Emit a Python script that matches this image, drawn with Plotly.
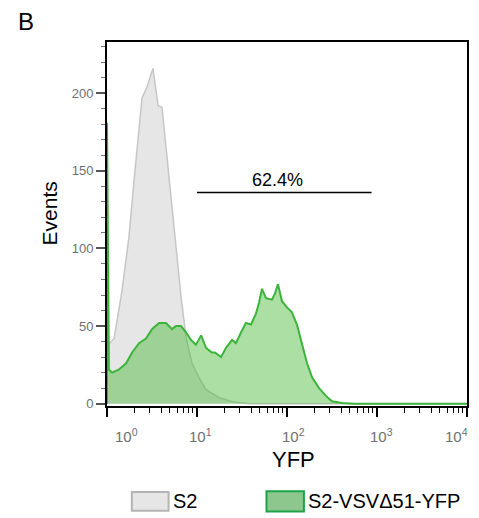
import math
import plotly.graph_objects as go

# ---------------- data ----------------
s2_yfp = [1.0, 1.2, 1.47, 1.75, 2.0, 2.15, 2.45, 2.78, 3.24, 3.69, 4.08, 4.53, 5.14,
          5.84, 6.64, 7.55, 8.8, 10.5, 12.6, 17.5, 25.8, 37.8, 100, 1000, 10000]
s2_events = [37, 42, 73, 107, 144, 163, 197, 204, 216, 192, 191, 165, 133,
             101, 69, 43, 26, 17, 9, 4, 1, 0, 0, 0, 0]

vsv_yfp = [1.0, 1.0, 1.05, 1.14, 1.36, 1.63, 1.9, 2.27, 2.71, 3.16, 3.79, 4.53, 5.27,
           5.84, 6.64, 7.55, 8.58, 9.75, 11.1, 12.6, 14.6, 15.8, 18.5, 21.0, 24.5,
           27.1, 30.9, 34.9, 39.8, 45.2, 48.9, 52.7, 58.4, 68.1, 73.6, 79.4, 87.9,
           100, 113, 129, 146, 167, 190, 227, 271, 316, 407, 557, 2000, 10000]
vsv_events = [0, 181, 22, 20, 22, 26, 33, 39, 42, 48, 52, 52, 48,
              50, 50, 46, 41, 38, 44, 36, 33, 33, 30, 36, 41,
              39, 46, 52, 51, 58, 65, 74, 68, 67, 71, 77, 66,
              62, 59, 51, 39, 26, 17, 10, 5, 1.5, 0.5, 0, 0, 0]

gate_x = [10, 870]
gate_y = [136, 136]
gate_label = "62.4%"

x_tick_vals = [1, 10, 100, 1000, 10000]
x_tick_text = ["10<sup>0</sup>", "10<sup>1</sup>", "10<sup>2</sup>", "10<sup>3</sup>", "10<sup>4</sup>"]
y_tick_vals = [0, 50, 100, 150, 200]

series_names = ["S2", "S2-VSV\u039451-YFP"]

# ---------------- styles ----------------
GRAY_FILL = "#e6e6e6"
GRAY_LINE = "#c6c6c6"
GREEN_FILL = "rgba(70,185,50,0.45)"
GREEN_LINE = "#3cb43c"
FONT = "Liberation Sans, Arial, sans-serif"
TICK_COLOR = "#707070"

fig = go.Figure()
fig.add_trace(go.Scatter(x=s2_yfp, y=s2_events, mode="lines", fill="tozeroy",
                         fillcolor=GRAY_FILL, line=dict(color=GRAY_LINE, width=1.5),
                         showlegend=False, hoverinfo="skip"))
fig.add_trace(go.Scatter(x=vsv_yfp, y=vsv_events, mode="lines", fill="tozeroy",
                         fillcolor=GREEN_FILL, line=dict(color=GREEN_LINE, width=2),
                         showlegend=False, hoverinfo="skip"))
fig.add_trace(go.Scatter(x=gate_x, y=gate_y, mode="lines",
                         line=dict(color="black", width=1.5),
                         showlegend=False, hoverinfo="skip"))


def ann(x, y, text, size, xref="paper", yref="paper", xanchor="center", yanchor="middle",
        color="black", **kw):
    return dict(x=x, y=y, xref=xref, yref=yref, text=text, showarrow=False,
                xanchor=xanchor, yanchor=yanchor,
                font=dict(size=size, color=color, family=FONT), **kw)


annotations = []
# gate label
annotations.append(ann(math.log10(math.sqrt(gate_x[0] * gate_x[1])) - 0.07, gate_y[0],
                       gate_label, 18, xref="x", yref="y", yanchor="bottom", yshift=1))
# x tick labels (FlowJo keeps end labels inside the axis)
x_shifts = [19, 3, 6, 4, -11]
for v, t, s in zip(x_tick_vals, x_tick_text, x_shifts):
    annotations.append(ann(math.log10(v), 0, t, 15, xref="x", yanchor="top",
                           color=TICK_COLOR, yshift=-18, xshift=s))
# axis titles and panel letter
annotations.append(ann(0.519, -0.148, "YFP", 22))
annotations.append(ann(-0.160, 0.530, "Events", 21, textangle=-90))
annotations.append(ann(-0.224, 1.055, "B", 24))
# legend text
annotations.append(ann(0.178, -0.262, series_names[0], 20, xanchor="left"))
annotations.append(ann(0.553, -0.262, series_names[1], 20, xanchor="left"))

shapes = [
    dict(type="rect", xref="paper", yref="paper", x0=0.069, x1=0.171, y0=-0.288, y1=-0.236,
         fillcolor=GRAY_FILL, line=dict(color="#b4b4b4", width=2)),
    dict(type="rect", xref="paper", yref="paper", x0=0.443, x1=0.547, y0=-0.290, y1=-0.234,
         fillcolor="#8dc78d", line=dict(color="#1fa34a", width=2)),
]

minor_x = [k * 10 ** d for d in range(4) for k in range(2, 10)]

fig.update_layout(
    width=479, height=518,
    margin=dict(l=107, r=10, t=42, b=112),
    paper_bgcolor="white", plot_bgcolor="white",
    annotations=annotations, shapes=shapes,
    font=dict(family=FONT),
)
fig.update_xaxes(type="log", range=[0, 4], showgrid=False, zeroline=False,
                 showline=True, linecolor="black", linewidth=2, mirror=True,
                 tickvals=x_tick_vals, ticktext=["" for _ in x_tick_vals],
                 ticks="outside", ticklen=9, tickwidth=2, tickcolor="black",
                 minor=dict(tickvals=minor_x, ticks="outside", ticklen=5,
                            tickwidth=1, tickcolor="black", showgrid=False))
fig.update_yaxes(range=[-1.5, 233], showgrid=False, zeroline=False,
                 showline=True, linecolor="black", linewidth=2, mirror=True,
                 tickvals=y_tick_vals, ticks="outside", ticklen=9, tickwidth=1.5,
                 tickcolor="#555555", tickfont=dict(size=13, color=TICK_COLOR, family=FONT),
                 minor=dict(dtick=10, ticks="outside", ticklen=4, tickwidth=1,
                            tickcolor="#777777", showgrid=False))

fig.write_html("out.html")
